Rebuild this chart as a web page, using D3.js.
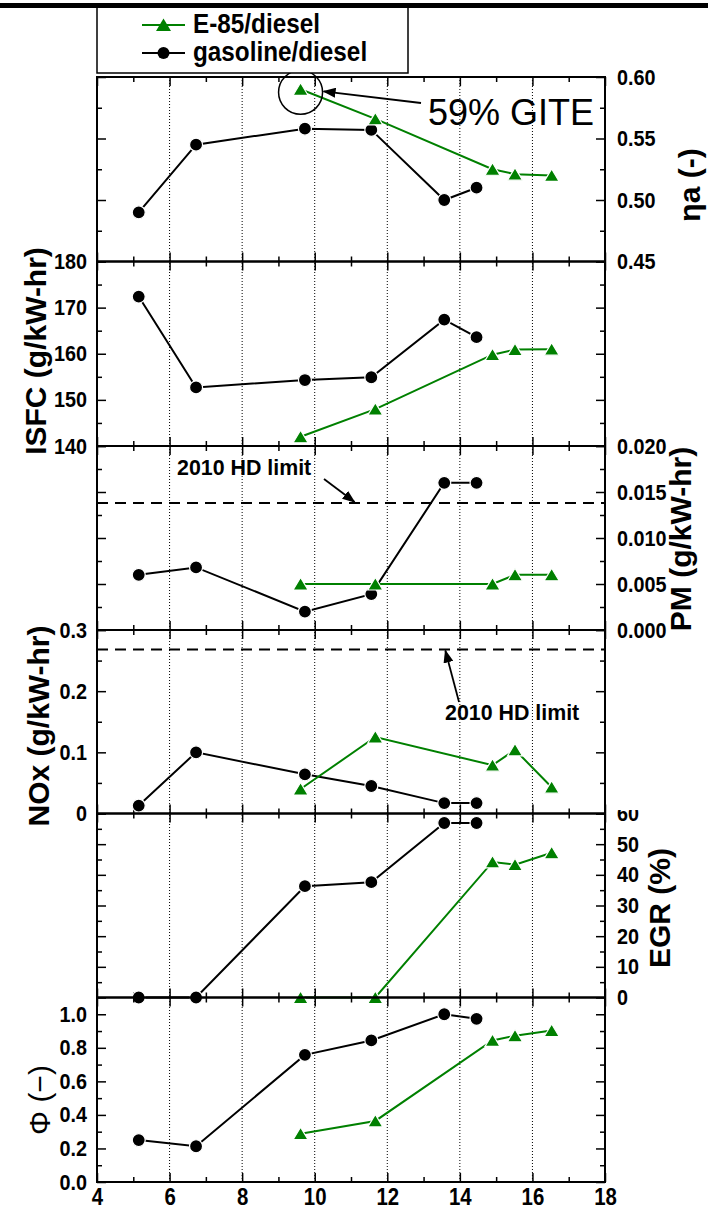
<!DOCTYPE html>
<html>
<head>
<meta charset="utf-8">
<script src="https://cdn.jsdelivr.net/npm/d3@7"></script>
<style>
    body { margin: 0; background: #fff; }
    svg text { font-family: Arial, "Liberation Sans", sans-serif; }
</style>
</head>
<body>
<svg id="chart" width="708" height="1211"></svg>
<script>
(function () {
    "use strict";

    // x = load (shared by all panels)
    const gasX = [5.15, 6.73, 9.73, 11.56, 13.57, 14.46];
    const e85X = [9.61, 11.67, 14.9, 15.52, 16.53];

    const etaGas = [0.490, 0.545, 0.558, 0.557, 0.500, 0.510];
    const etaE85 = [0.590, 0.566, 0.525, 0.521, 0.520];
    const isfcGas = [172.4, 152.7, 154.3, 154.9, 167.4, 163.6];
    const isfcE85 = [142.0, 148.0, 159.8, 160.9, 161.0];
    const pmGas = [0.0060, 0.0068, 0.0020, 0.0039, 0.0160, 0.0160];
    const pmE85 = [0.0050, 0.0050, 0.0050, 0.0060, 0.0060];
    const noxGas = [0.013, 0.100, 0.064, 0.045, 0.017, 0.017];
    const noxE85 = [0.040, 0.125, 0.079, 0.104, 0.043];
    const egrGas = [0, 0, 36.3, 37.6, 56.9, 56.9];
    const egrE85 = [0, 0, 44.2, 43.3, 47.2];
    const phiGas = [0.250, 0.213, 0.758, 0.844, 1.000, 0.973];
    const phiE85 = [0.288, 0.364, 0.844, 0.872, 0.903];

    const pmLimit = 0.0138;
    const noxLimit = 0.268;

    const xTicks = [4, 6, 8, 10, 12, 14, 16, 18];
    const xMinor = [5, 7, 9, 11, 13, 15, 17];
    const etaTicks = [0.45, 0.50, 0.55, 0.60];
    const etaMinor = [0.475, 0.525, 0.575];
    const isfcTicks = [140, 150, 160, 170, 180];
    const isfcMinor = [145, 155, 165, 175];
    const pmTicks = [0, 0.005, 0.010, 0.015, 0.020];
    const pmMinor = [0.0025, 0.0075, 0.0125, 0.0175];
    const noxTicks = [0, 0.1, 0.2, 0.3];
    const noxMinor = [0.05, 0.15, 0.25];
    const egrTicks = [0, 10, 20, 30, 40, 50, 60];
    const egrMinor = [5, 15, 25, 35, 45, 55];
    const phiTicks = [0, 0.2, 0.4, 0.6, 0.8, 1.0];
    const phiMinor = [0.1, 0.3, 0.5, 0.7, 0.9];

    const seriesNames = ["E-85/diesel", "gasoline/diesel"];

    const width = 708;
    const height = 1211;
    const left = 97;
    const right = 605;
    const bounds = [77, 261.5, 446, 630, 813.5, 997.5, 1182];
    const green = "#008000";

    const panels = [
        { gas: etaGas, e85: etaE85, domain: [0.45, 0.60], ticks: etaTicks, minor: etaMinor, side: "right",
          fmt: d3.format(".2f"), title: "ηa (-)", tx: 700, ty: 185 },
        { gas: isfcGas, e85: isfcE85, domain: [140, 180], ticks: isfcTicks, minor: isfcMinor, side: "left",
          fmt: d3.format("d"), title: "ISFC (g/kW-hr)", tx: 46, ty: 351 },
        { gas: pmGas, e85: pmE85, domain: [0, 0.020], ticks: pmTicks, minor: pmMinor, side: "right",
          fmt: d3.format(".3f"), title: "PM (g/kW-hr)", tx: 691, ty: 539, limit: pmLimit },
        { gas: noxGas, e85: noxE85, domain: [0, 0.3], ticks: noxTicks, minor: noxMinor, side: "left",
          fmt: (d) => d === 0 ? "0" : d3.format(".1f")(d), title: "NOx (g/kW-hr)", tx: 49, ty: 726, limit: noxLimit },
        { gas: egrGas, e85: egrE85, domain: [0, 60], ticks: egrTicks, minor: egrMinor, side: "right",
          fmt: d3.format("d"), title: "EGR (%)", tx: 670, ty: 908 },
        { gas: phiGas, e85: phiE85, domain: [0, 1.1], ticks: phiTicks, minor: phiMinor, side: "left",
          fmt: d3.format(".1f"), title: "Φ (−)", tx: 50, ty: 1100, light: true }
    ];

    const svg = d3.select("#chart");
    svg.append("rect").attr("width", width).attr("height", height).attr("fill", "#fff");

    const defs = svg.append("defs");
    defs.append("marker")
        .attr("id", "arrow")
        .attr("viewBox", "0 0 13 10")
        .attr("refX", 12)
        .attr("refY", 5)
        .attr("markerWidth", 13)
        .attr("markerHeight", 10)
        .attr("markerUnits", "userSpaceOnUse")
        .attr("orient", "auto")
        .append("path")
        .attr("d", "M0,0L13,5L0,10Z")
        .attr("fill", "#000");

    const x = d3.scaleLinear().domain([4, 18]).range([left, right]);
    const triangle = "M0,-6.5L7.5,6L-7.5,6Z";

    // squeeze bold text horizontally, the original uses a narrow face
    function squeeze(sel, sx) {
        sel.selectAll(".tick text").each(function () {
            const t = d3.select(this);
            const x0 = +t.attr("x") || 0;
            t.attr("x", x0 / sx).attr("transform", `scale(${sx},1)`);
        });
    }

    function axis(g, axisFn, scale, values, size, fmt, pad, tr) {
        const a = g.append("g")
            .attr("transform", tr)
            .call(axisFn(scale)
                .tickValues(values)
                .tickSizeInner(-size)
                .tickSizeOuter(0)
                .tickPadding(pad)
                .tickFormat(fmt || (() => "")));
        a.select(".domain").remove();
        a.selectAll(".tick line").attr("stroke-width", 1.5);
        a.attr("font-size", 22).attr("font-weight", "bold").attr("font-family", null);
        return a;
    }

    function text(g, str, x0, y0, size, sx, weight) {
        return g.append("text")
            .attr("transform", `translate(${x0},${y0}) scale(${sx},1)`)
            .attr("font-size", size)
            .attr("font-weight", weight)
            .text(str);
    }

    // dotted vertical grid through every panel
    svg.append("g")
        .selectAll("line")
        .data(xTicks.slice(1, -1))
        .join("line")
        .attr("x1", (d) => x(d))
        .attr("x2", (d) => x(d))
        .attr("y1", bounds[0])
        .attr("y2", bounds[bounds.length - 1])
        .attr("stroke", "#000")
        .attr("stroke-width", 1)
        .attr("stroke-dasharray", "1,2");

    const scales = [];

    panels.forEach((p, i) => {
        const top = bounds[i];
        const bottom = bounds[i + 1];
        const y = d3.scaleLinear().domain(p.domain).range([bottom, top]);
        scales.push(y);
        const g = svg.append("g");

        // x ticks top and bottom, pointing in
        axis(g, d3.axisTop, x, xTicks, 9, null, 0, `translate(0,${top})`);
        axis(g, d3.axisTop, x, xMinor, 5, null, 0, `translate(0,${top})`);
        axis(g, d3.axisBottom, x, xMinor, 5, null, 0, `translate(0,${bottom})`);
        if (i === panels.length - 1) {
            const bx = axis(g, d3.axisBottom, x, xTicks, 9, d3.format("d"), 6, `translate(0,${bottom})`);
            bx.attr("font-size", 24);
            squeeze(bx, 0.85);
        } else {
            axis(g, d3.axisBottom, x, xTicks, 9, null, 0, `translate(0,${bottom})`);
        }

        // y ticks both sides, labels on one side
        const labelLeft = p.side === "left";
        const la = axis(g, d3.axisLeft, y, p.ticks, 9, labelLeft ? p.fmt : null, 10, `translate(${left},0)`);
        axis(g, d3.axisLeft, y, p.minor, 5, null, 0, `translate(${left},0)`);
        const ra = axis(g, d3.axisRight, y, p.ticks, 9, labelLeft ? null : p.fmt, 12, `translate(${right},0)`);
        axis(g, d3.axisRight, y, p.minor, 5, null, 0, `translate(${right},0)`);
        squeeze(labelLeft ? la : ra, 0.9);

        if (p.limit !== undefined) {
            g.append("line")
                .attr("x1", left)
                .attr("x2", right)
                .attr("y1", y(p.limit))
                .attr("y2", y(p.limit))
                .attr("stroke", "#000")
                .attr("stroke-width", 2)
                .attr("stroke-dasharray", "11,7");
        }

        const line = d3.line().x((d) => x(d[0])).y((d) => y(d[1]));

        g.append("path")
            .datum(d3.zip(gasX, p.gas))
            .attr("d", line)
            .attr("fill", "none")
            .attr("stroke", "#000")
            .attr("stroke-width", 2);

        g.append("path")
            .datum(d3.zip(e85X, p.e85))
            .attr("d", line)
            .attr("fill", "none")
            .attr("stroke", green)
            .attr("stroke-width", 2);

        g.selectAll("circle")
            .data(d3.zip(gasX, p.gas))
            .join("circle")
            .attr("cx", (d) => x(d[0]))
            .attr("cy", (d) => y(d[1]))
            .attr("r", 6.5)
            .attr("fill", "#000")
            .attr("stroke", "#fff")
            .attr("stroke-width", 1.2);

        g.selectAll("path.tri")
            .data(d3.zip(e85X, p.e85))
            .join("path")
            .attr("class", "tri")
            .attr("d", triangle)
            .attr("transform", (d) => `translate(${x(d[0])},${y(d[1])})`)
            .attr("fill", green)
            .attr("stroke", "#fff")
            .attr("stroke-width", 1.2);

        g.append("rect")
            .attr("x", left)
            .attr("y", top)
            .attr("width", right - left)
            .attr("height", bottom - top)
            .attr("fill", "none")
            .attr("stroke", "#000")
            .attr("stroke-width", 2);

        g.append("text")
            .attr("transform", `translate(${p.tx},${p.ty}) rotate(-90)`)
            .attr("text-anchor", "middle")
            .attr("font-size", 30)
            .attr("font-weight", p.light ? "normal" : "bold")
            .text(p.title);
    });

    // top of the "60" EGR label is hidden in the original
    svg.append("rect")
        .attr("x", right + 2)
        .attr("y", 794)
        .attr("width", 60)
        .attr("height", 16)
        .attr("fill", "#fff");

    // annotations
    const ann = svg.append("g");
    const gx = x(e85X[0]);
    const gy = scales[0](etaE85[0]) + 3;
    ann.append("circle")
        .attr("cx", gx)
        .attr("cy", gy)
        .attr("r", 22)
        .attr("fill", "none")
        .attr("stroke", "#000")
        .attr("stroke-width", 1.5);
    ann.append("line")
        .attr("x1", 421).attr("y1", 103)
        .attr("x2", gx + 23).attr("y2", gy - 1)
        .attr("stroke", "#000").attr("stroke-width", 1.8)
        .attr("marker-end", "url(#arrow)");
    text(ann, "59% GITE", 428, 125, 36, 1, "normal");

    text(ann, "2010 HD limit", 177, 475, 23, 0.93, "bold");
    ann.append("line")
        .attr("x1", 324).attr("y1", 479)
        .attr("x2", x(11.1)).attr("y2", scales[2](pmLimit) - 1)
        .attr("stroke", "#000").attr("stroke-width", 1.8)
        .attr("marker-end", "url(#arrow)");

    text(ann, "2010 HD limit", 445, 720, 23, 0.93, "bold");
    ann.append("line")
        .attr("x1", 459).attr("y1", 702)
        .attr("x2", x(13.6)).attr("y2", scales[3](noxLimit) + 1)
        .attr("stroke", "#000").attr("stroke-width", 1.8)
        .attr("marker-end", "url(#arrow)");

    // legend box and heavy top rule
    const legend = svg.append("g");
    legend.append("rect")
        .attr("x", 97)
        .attr("y", 4.5)
        .attr("width", 311)
        .attr("height", 68.5)
        .attr("fill", "#fff")
        .attr("stroke", "#000")
        .attr("stroke-width", 1.5);
    legend.append("rect")
        .attr("x", 0)
        .attr("y", 3)
        .attr("width", width)
        .attr("height", 5)
        .attr("fill", "#000");

    const rows = [
        { name: seriesNames[0], color: green, tri: true, cy: 25, base: 33 },
        { name: seriesNames[1], color: "#000", tri: false, cy: 53, base: 61 }
    ];
    rows.forEach((r) => {
        legend.append("line")
            .attr("x1", 142).attr("x2", 185)
            .attr("y1", r.cy).attr("y2", r.cy)
            .attr("stroke", r.color).attr("stroke-width", 2);
        if (r.tri) {
            legend.append("path")
                .attr("d", triangle)
                .attr("transform", `translate(163.5,${r.cy})`)
                .attr("fill", r.color);
        } else {
            legend.append("circle")
                .attr("cx", 163.5).attr("cy", r.cy).attr("r", 6)
                .attr("fill", r.color);
        }
        text(legend, r.name, 193, r.base, 27, 0.9, "bold");
    });
}());
</script>
</body>
</html>
